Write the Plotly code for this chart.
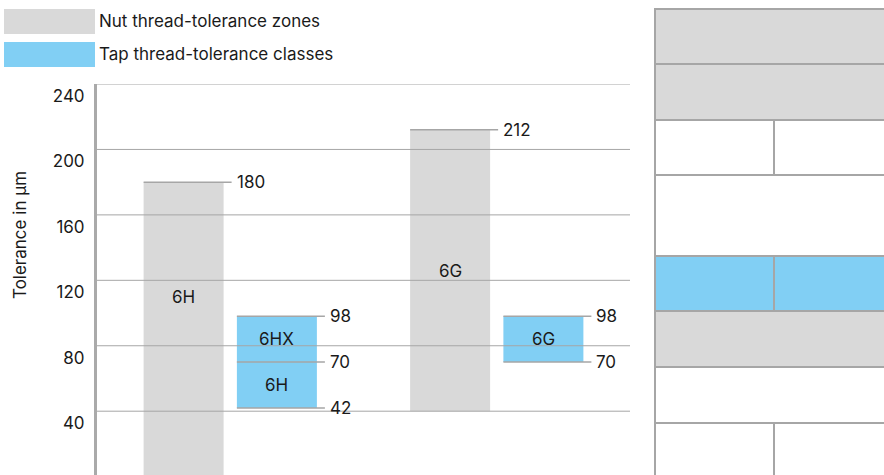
import plotly.graph_objects as go

# ---------------- data ----------------
zones = ["6H", "6G"]                      # nut thread-tolerance zones
zone_top = [180, 212]                     # µm
zone_base = [0, 40]                       # µm
tap_classes = [["6H", "6HX"], ["6G"]]     # tap thread-tolerance classes per zone
tap_bounds = [[42, 70, 98], [70, 98]]     # µm, class limits (bottom -> top)
y_ticks = [40, 80, 120, 160, 200, 240]
legend_names = ["Nut thread-tolerance zones", "Tap thread-tolerance classes"]
y_title = "Tolerance in µm"

# ---------------- style ----------------
GRAY = "#d9d9d9"
BLUE = "#81cff4"
LINE = "#a6a6a6"
TXT = "#1a1a1a"
FONT = "Inter"
FS = 17

W, H = 884, 475
PL, PR, PT, PB = 97, 630, 84, 475          # plot area in pixels
XR = [-0.5, 1.5]
px_per_x = (PR - PL) / (XR[1] - XR[0])
OFF = 0.175                                # nut / tap offset from group centre
BW = 80 / px_per_x                         # bar width
EXT = 8 / px_per_x                         # leader-line extension


def xp(px):
    return (px - PL) / (PR - PL)


def yp(py):
    return (PB - py) / (PB - PT)


fig = go.Figure()

# nut zones
nut_x = [i - OFF for i in range(len(zones))]
fig.add_trace(go.Bar(
    x=nut_x, base=zone_base,
    y=[t - b for t, b in zip(zone_top, zone_base)],
    width=BW, marker=dict(color=GRAY, line=dict(width=0)),
    showlegend=False, hoverinfo="skip"))

# tap classes
tx, tb, th = [], [], []
for i, bounds in enumerate(tap_bounds):
    for j in range(len(bounds) - 1):
        tx.append(i + OFF)
        tb.append(bounds[j])
        th.append(bounds[j + 1] - bounds[j])
fig.add_trace(go.Bar(
    x=tx, base=tb, y=th, width=BW,
    marker=dict(color=BLUE, line=dict(width=0)),
    showlegend=False, hoverinfo="skip"))

shapes = []
annotations = []

# gridlines (drawn above bars)
for v in y_ticks:
    shapes.append(dict(type="line", xref="paper", yref="y", x0=0, x1=1,
                       y0=v, y1=v, line=dict(color=LINE, width=1), layer="above"))

# leader lines + value labels
def leader(xc, v):
    shapes.append(dict(type="line", xref="x", yref="y",
                       x0=xc - BW / 2, x1=xc + BW / 2 + EXT, y0=v, y1=v,
                       line=dict(color=LINE, width=1.5), layer="above"))
    annotations.append(dict(x=xc + BW / 2 + EXT, y=v, xref="x", yref="y",
                            text=str(v), showarrow=False, xanchor="left",
                            yanchor="middle", xshift=3,
                            font=dict(family=FONT, size=FS, color=TXT)))

for i, z in enumerate(zones):
    xc = i - OFF
    leader(xc, zone_top[i])
    annotations.append(dict(x=xc, y=(y_ticks[0] + zone_top[i]) / 2, xref="x", yref="y",
                            text=z, showarrow=False, xanchor="center",
                            font=dict(family=FONT, size=FS, color=TXT)))
    xt = i + OFF
    bounds = tap_bounds[i]
    for v in bounds:
        leader(xt, v)
    for j, c in enumerate(tap_classes[i]):
        annotations.append(dict(x=xt, y=(bounds[j] + bounds[j + 1]) / 2,
                                xref="x", yref="y", text=c, showarrow=False,
                                xanchor="center",
                                font=dict(family=FONT, size=FS, color=TXT)))

# legend
for k, (name, col) in enumerate(zip(legend_names, [GRAY, BLUE])):
    y0 = 9 + k * 33
    shapes.append(dict(type="rect", xref="paper", yref="paper",
                       x0=xp(4), x1=xp(95), y0=yp(y0), y1=yp(y0 + 25),
                       fillcolor=col, line=dict(width=0)))
    annotations.append(dict(x=xp(97), y=yp(y0 + 12), xref="paper", yref="paper",
                            text=name, showarrow=False, xanchor="left",
                            yanchor="middle",
                            font=dict(family=FONT, size=FS, color=TXT)))

# y title
annotations.append(dict(x=xp(20), y=yp(235), xref="paper", yref="paper",
                        text=y_title, showarrow=False, textangle=-90,
                        xanchor="center", yanchor="middle",
                        font=dict(family=FONT, size=FS, color=TXT)))

# right-hand schematic panel
rows = [(9, 64, GRAY, False), (64, 120, GRAY, False), (120, 175, "white", True),
        (175, 256, "white", False), (256, 311, BLUE, True), (311, 367, GRAY, False),
        (367, 423, "white", False), (423, 490, "white", True)]
for (a, b, col, split) in rows:
    shapes.append(dict(type="rect", xref="paper", yref="paper",
                       x0=xp(655), x1=xp(900), y0=yp(b), y1=yp(a),
                       fillcolor=col, line=dict(color=LINE, width=2)))
    if split:
        shapes.append(dict(type="line", xref="paper", yref="paper",
                           x0=xp(774), x1=xp(774), y0=yp(b), y1=yp(a),
                           line=dict(color=LINE, width=2)))

fig.update_layout(
    width=W, height=H,
    margin=dict(l=PL, r=W - PR, t=PT, b=H - PB, pad=0),
    paper_bgcolor="white", plot_bgcolor="white",
    barmode="overlay", showlegend=False,
    font=dict(family=FONT, size=FS, color=TXT),
    xaxis=dict(range=XR, visible=False, fixedrange=True),
    yaxis=dict(range=[1, 240], tickvals=y_ticks, showgrid=False, zeroline=False,
               showline=True, linecolor="#aaaaaa", linewidth=3,
               ticks="", ticklabelshift=12, ticklabelstandoff=6,
               tickfont=dict(family=FONT, size=FS, color=TXT), fixedrange=True),
    shapes=shapes, annotations=annotations,
)

fig.write_html("out.html",
               config={"displayModeBar": False, "staticPlot": True},
               post_script="document.body.style.margin='0';"
                           "document.body.style.overflow='hidden';")
